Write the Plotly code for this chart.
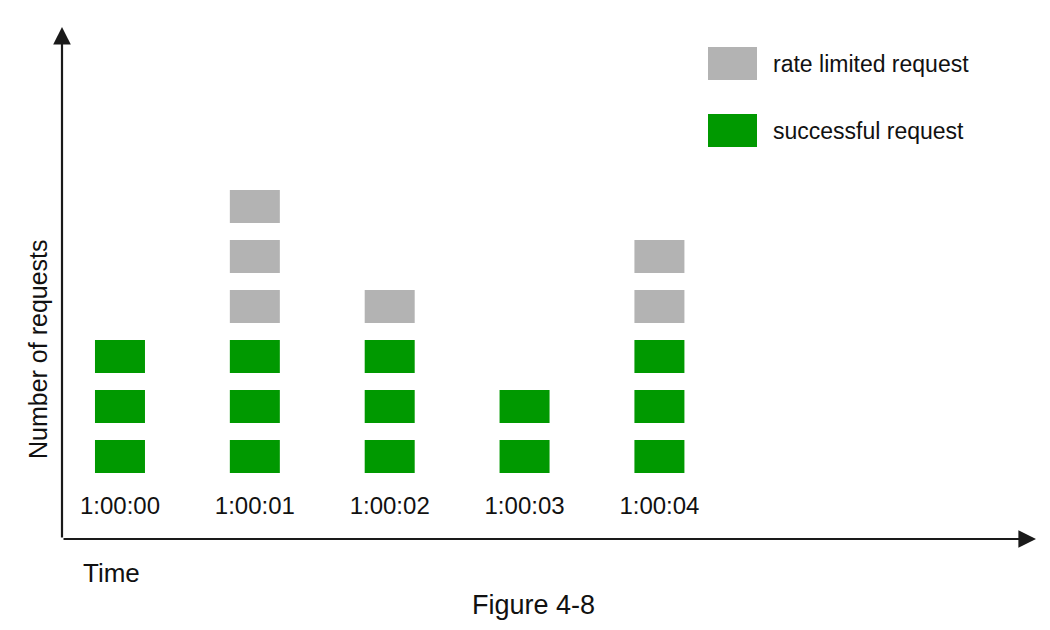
import plotly.graph_objects as go

# requests per second
times = ["1:00:00", "1:00:01", "1:00:02", "1:00:03", "1:00:04"]
successful = [3, 3, 3, 2, 3]
rate_limited = [0, 3, 1, 0, 2]

legend_names = ["rate limited request", "successful request"]

GREEN = "#009900"
GRAY = "#B3B3B3"
INK = "#111111"
FONT = "Liberation Sans, Arial, sans-serif"
W, H = 1050, 630
OFF = 8  # page body margin, everything is drawn 8px up/left


def px(p):
    return (p - OFF) / W


def py(p):
    return 1 - (p - OFF) / H


# column / row scales (pixels of the reference)
col_c, col_step = 389.7 - OFF, 134.86
row_0, row_step = 473 - OFF, 50

# blocks: one bar per request, stacked by slot
ok_x, ok_base = [], []
lim_x, lim_base = [], []
for i, t in enumerate(times):
    for s in range(successful[i]):
        ok_x.append(i)
        ok_base.append(s)
    for s in range(rate_limited[i]):
        lim_x.append(i)
        lim_base.append(successful[i] + s)

block_w = 50 / col_step
block_h = 33 / row_step

fig = go.Figure()
fig.add_trace(go.Bar(x=ok_x, y=[block_h] * len(ok_x), base=ok_base, width=block_w,
                     marker=dict(color=GREEN, line=dict(width=0)), hoverinfo="skip"))
fig.add_trace(go.Bar(x=lim_x, y=[block_h] * len(lim_x), base=lim_base, width=block_w,
                     marker=dict(color=GRAY, line=dict(width=0)), hoverinfo="skip"))

# time labels under each column
fig.add_trace(go.Scatter(x=list(range(len(times))), y=[-0.7] * len(times), text=times,
                         mode="text", textposition="middle center",
                         textfont=dict(family=FONT, size=24, color=INK), hoverinfo="skip"))

# legend drawn as its own little axis
leg_c, leg_step = 63.5 - OFF, 67
fig.add_trace(go.Bar(y=[0, 1], x=[1, 1], base=[0, 0], orientation="h", width=33 / leg_step,
                     marker=dict(color=[GRAY, GREEN], line=dict(width=0)),
                     xaxis="x2", yaxis="y2", hoverinfo="skip"))

ann = []
for i, name in enumerate(legend_names):
    ann.append(dict(x=1, y=i, xref="x2", yref="y2", text=name, showarrow=False,
                    xanchor="left", yanchor="middle", xshift=14,
                    font=dict(family=FONT, size=23, color=INK)))

# axis arrows
arrow = dict(xref="paper", yref="paper", showarrow=True, arrowhead=2, arrowsize=1.6,
             arrowwidth=2.2, arrowcolor="#1a1a1a", text="")
ann.append(dict(x=px(1036), y=py(539), ax=-974, ay=0, **arrow))
ann.append(dict(x=px(62), y=py(27), ax=0, ay=512, **arrow))

ann.append(dict(x=px(38), y=py(349), xref="paper", yref="paper", text="Number of requests",
                textangle=-90, showarrow=False, xanchor="center", yanchor="middle",
                font=dict(family=FONT, size=25, color=INK)))
ann.append(dict(x=px(81), y=py(573), xref="paper", yref="paper", text="Time",
                showarrow=False, xanchor="left", yanchor="middle",
                font=dict(family=FONT, size=26, color=INK)))
ann.append(dict(x=px(533), y=py(605), xref="paper", yref="paper", text="Figure 4-8",
                showarrow=False, xanchor="center", yanchor="middle",
                font=dict(family=FONT, size=27, color=INK)))

hidden = dict(showgrid=False, zeroline=False, showticklabels=False, ticks="", showline=False, fixedrange=True)

fig.update_layout(
    width=W, height=H,
    margin=dict(l=0, r=0, t=0, b=0),
    paper_bgcolor="white", plot_bgcolor="white",
    barmode="overlay", showlegend=False,
    xaxis=dict(range=[2 - col_c / col_step, 2 + (W - col_c) / col_step], domain=[0, 1], **hidden),
    yaxis=dict(range=[(row_0 - H) / row_step, row_0 / row_step], domain=[0, 1], **hidden),
    xaxis2=dict(range=[0, 1], domain=[px(708), px(757)], anchor="y2", **hidden),
    yaxis2=dict(range=[(H - leg_c) / leg_step, -leg_c / leg_step], domain=[0, 1], anchor="x2", **hidden),
    annotations=ann,
)

fig.write_html("out.html")
